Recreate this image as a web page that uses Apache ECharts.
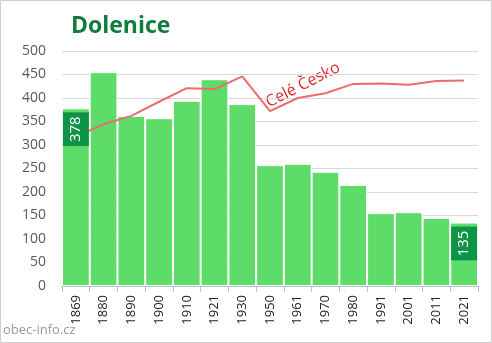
<!DOCTYPE html>
<html><head><meta charset="utf-8">
<script src="https://cdn.jsdelivr.net/npm/echarts@6/dist/echarts.min.js"></script>
<style>html,body{margin:0;padding:0;background:#fff}#c{width:492px;height:343px}</style>
</head><body><div id="c"></div>
<script>
const years = ['1869','1880','1890','1900','1910','1921','1930','1950','1961','1970','1980','1991','2001','2011','2021'];
const population = [378,455,362,357,394,440,387,257,260,243,215,155,157,145,135];
const czechiaScaled = [318,344,362,392,421,419,446,372,400,410,430,431,428,436,437];
const yTicks = {min:0, max:500, interval:50};
const labelIdx = [0, years.length-1];

const chart = echarts.init(document.getElementById('c'), null, {renderer:'canvas'});
const font = '"Open Sans", "Liberation Sans", sans-serif';
chart.setOption({
  animation:false,
  backgroundColor:'#fff',
  title:{text:'Dolenice', left:66, top:10, textStyle:{fontFamily:font, fontWeight:'bold', fontSize:23, color:'#0f7d3b'}},
  grid:{left:62, right:14, top:51, bottom:57, containLabel:false},
  xAxis:{type:'category', data:years,
    axisLine:{lineStyle:{color:'#bfbfbf'}},
    axisTick:{show:true, length:6, lineStyle:{color:'#bfbfbf'}},
    axisLabel:{rotate:90, fontFamily:font, fontSize:13, color:'#222', margin:9, interval:0}},
  yAxis:{type:'value', min:yTicks.min, max:yTicks.max, interval:yTicks.interval,
    axisLine:{show:false}, axisTick:{show:false},
    splitLine:{lineStyle:{color:'#d9d9d9'}},
    axisLabel:{fontFamily:font, fontSize:14, color:'#595959', margin:16}},
  series:[
    {type:'bar', data:population, barCategoryGap:0, z:2,
      itemStyle:{color:'#5ddc69', borderColor:'#ffffff', borderWidth:1}},
    {type:'line', data:czechiaScaled, symbol:'none', z:2,
      lineStyle:{color:'#ee6b6b', width:2}},
    {type:'bar', data:population.map((v,i)=>({value:v, label:{show:labelIdx.includes(i)}})),
      barGap:'-100%', barCategoryGap:0, z:4,
      itemStyle:{color:'rgba(0,0,0,0)'},
      label:{show:false, position:'insideTop', distance:4, rotate:90, align:'right', verticalAlign:'middle',
        fontFamily:font, fontSize:15, color:'#fff', backgroundColor:'#0d9447',
        padding:[5,4,5,4], lineHeight:16}}
  ],
  graphic:[
    {type:'text', left:3, top:324, style:{text:'obec-info.cz', fontFamily:font, fontSize:13, fill:'#9a9a9a'}},
    {type:'text', x:303, y:85, rotation:0.47, style:{text:'Celé Česko', fontFamily:font, fontSize:16, fill:'#e02828', align:'center', verticalAlign:'middle'}},
    {type:'rect', shape:{x:0.5, y:0.5, width:491, height:342}, style:{fill:null, stroke:'#d0d0d0', lineWidth:1}, silent:true}
  ]
});
</script></body></html>
